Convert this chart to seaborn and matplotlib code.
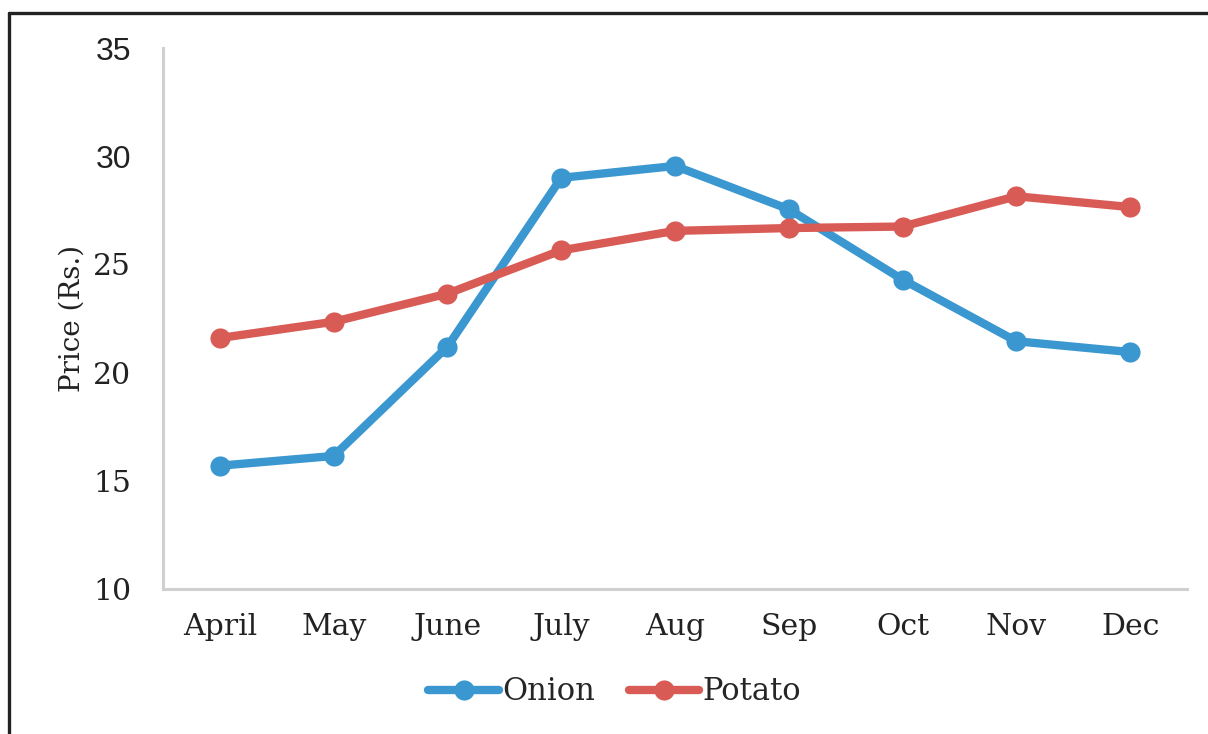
import matplotlib
matplotlib.use("Agg")
import matplotlib.pyplot as plt
from matplotlib.lines import Line2D
import pandas as pd
import seaborn as sns

months = ["April", "May", "June", "July", "Aug", "Sep", "Oct", "Nov", "Dec"]
onion = [15.7, 16.15, 21.2, 29.0, 29.55, 27.55, 24.3, 21.45, 20.95]
potato = [21.6, 22.35, 23.65, 25.65, 26.55, 26.68, 26.75, 28.15, 27.65]
series_names = ["Onion", "Potato"]
colors = ["#3A97CF", "#D95B55"]
y_ticks = [10, 15, 20, 25, 30, 35]

df = pd.DataFrame({
    "month": months * 2,
    "price": onion + potato,
    "crop": ["Onion"] * len(months) + ["Potato"] * len(months),
})

sns.set_style("white")
plt.rcParams["font.family"] = ["DejaVu Serif"]

fig = plt.figure(figsize=(12.08, 7.34), dpi=100)
ax = fig.add_axes([0.135, 0.1975, 0.8476, 0.7371])

sns.lineplot(
    data=df, x="month", y="price", hue="crop", hue_order=series_names,
    palette=colors, marker="o", markersize=14.5, markeredgewidth=0,
    linewidth=6, sort=False, ax=ax,
)

ax.set_xlim(-0.5, len(months) - 0.5)
ax.set_ylim(10, 35)
ax.set_yticks(y_ticks)
ax.set_yticklabels([str(t) for t in y_ticks])
ax.tick_params(axis="x", length=0, pad=17, labelsize=21.5, colors="#222222")
ax.tick_params(axis="y", length=0, pad=23, labelsize=21.5, colors="#222222")
for lbl in ax.get_yticklabels():
    if lbl.get_text() in ("30", "35"):
        lbl.set_fontfamily("Liberation Sans")
        lbl.set_fontsize(23)
ax.set_xlabel("")
ax.set_ylabel("Price (Rs.)", fontsize=20, color="#222222", labelpad=5)

for side in ("top", "right"):
    ax.spines[side].set_visible(False)
for side in ("left", "bottom"):
    ax.spines[side].set_color("#D0D0D0")
    ax.spines[side].set_linewidth(2.2)

handles, labels = ax.get_legend_handles_labels()
ax.legend(
    handles, labels, loc="center", bbox_to_anchor=(0.509, 0.0575),
    bbox_transform=fig.transFigure, ncol=2, frameon=False, fontsize=22,
    handlelength=2.3, handletextpad=0.12, columnspacing=1.1,
)

# outer frame (left and top edges visible in the crop)
fig.add_artist(Line2D([0.0075, 0.0075], [0.0, 0.9823], transform=fig.transFigure,
                      color="#222222", linewidth=2.4))
fig.add_artist(Line2D([0.0075, 1.0], [0.9823, 0.9823], transform=fig.transFigure,
                      color="#222222", linewidth=2.4))

fig.savefig("out.png", dpi=100, facecolor="white")
